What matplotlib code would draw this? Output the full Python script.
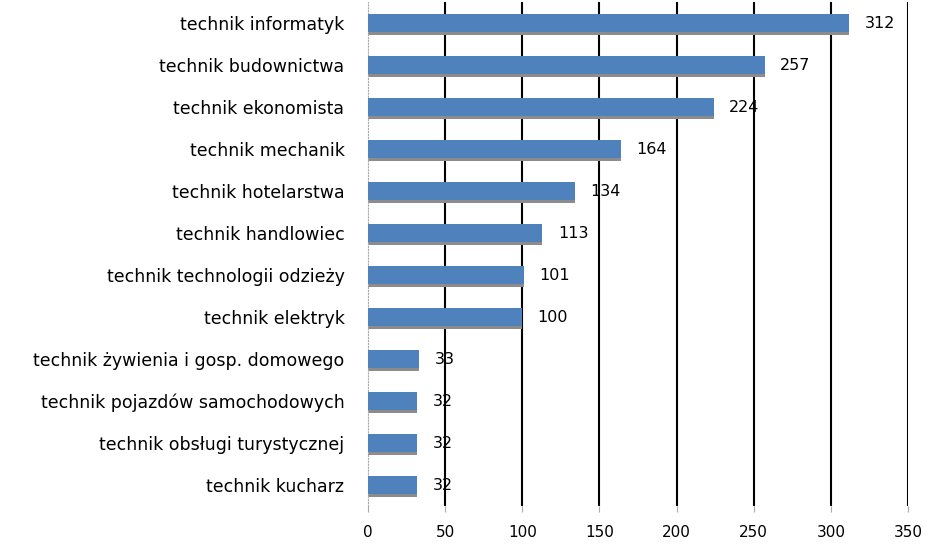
import matplotlib.pyplot as plt
import numpy as np

# dane z wykresu
zawody = ['technik informatyk', 'technik budownictwa', 'technik ekonomista',
          'technik mechanik', 'technik hotelarstwa', 'technik handlowiec',
          'technik technologii odzieży', 'technik elektryk',
          'technik żywienia i gosp. domowego', 'technik pojazdów samochodowych',
          'technik obsługi turystycznej', 'technik kucharz']
liczba = [312, 257, 224, 164, 134, 113, 101, 100, 33, 32, 32, 32]
x_ticks = [0, 50, 100, 150, 200, 250, 300, 350]

plt.rcParams['font.family'] = ['DejaVu Sans']

fig = plt.figure(figsize=(9.27, 5.46), dpi=100)
ax = fig.add_axes([368 / 927, 40 / 546, 540 / 927, 504 / 546])

y = np.arange(len(zawody))
# cień pod słupkami (jak w Excelu)
ax.barh(y + 0.08, liczba, height=0.43, color='#8c8c8c', zorder=2)
ax.barh(y, liczba, height=0.43, color='#4f81bd', zorder=3)

for yi, v in zip(y, liczba):
    ax.text(v + 10, yi, str(v), va='center', ha='left', fontsize=11.5, zorder=4)

ax.set_xlim(0, 350)
ax.set_ylim(len(zawody) - 0.5, -0.5)
ax.set_yticks(y)
ax.set_yticklabels(zawody, fontsize=12.5)
ax.set_xticks(x_ticks)
ax.set_xticklabels([str(t) for t in x_ticks], fontsize=11)

# linie siatki
for t in x_ticks[1:]:
    ax.axvline(t, color='black', lw=1.5, zorder=1)

for s in ['top', 'right', 'bottom']:
    ax.spines[s].set_visible(False)
ax.spines['left'].set_linestyle(':')
ax.spines['left'].set_color('#aaaaaa')
ax.tick_params(axis='y', length=0, pad=17)
ax.tick_params(axis='x', length=4, color='#aaaaaa', pad=10)

fig.savefig('out.png', dpi=100)
